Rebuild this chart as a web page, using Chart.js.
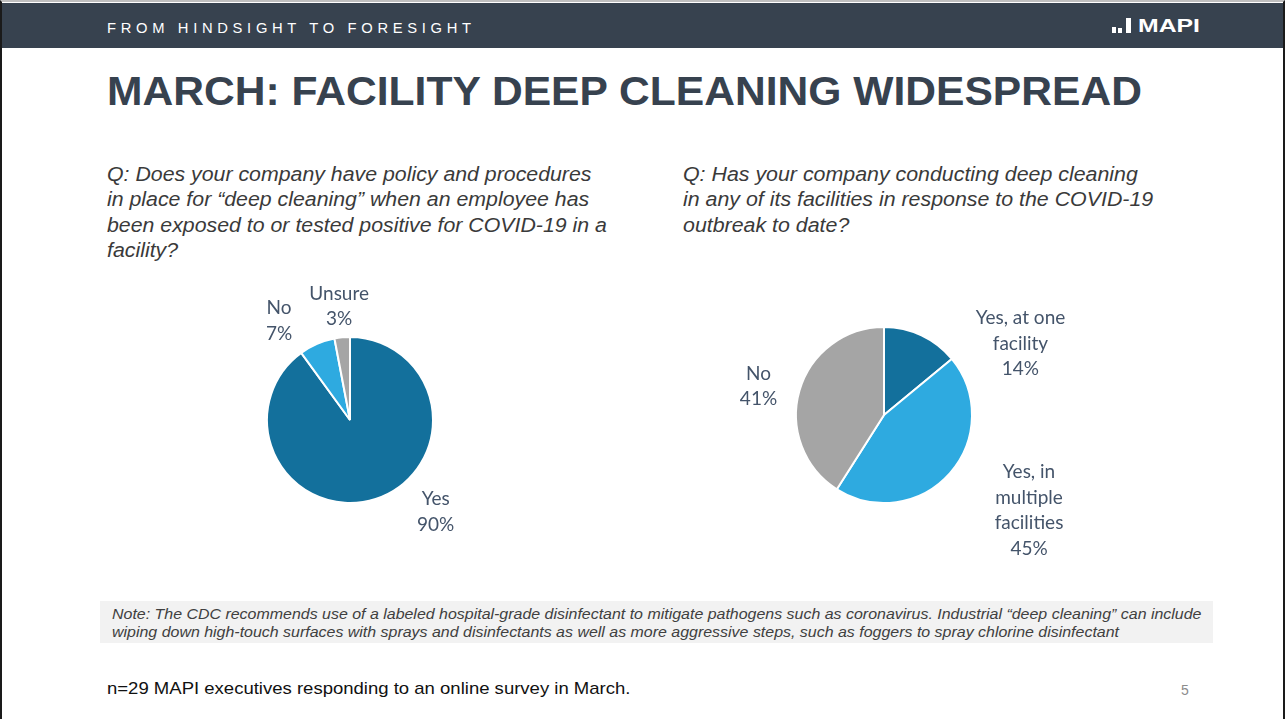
<!DOCTYPE html>
<html>
<head>
<meta charset="utf-8">
<script src="https://cdn.jsdelivr.net/npm/chart.js@4.4.1/dist/chart.umd.min.js"></script>
<style>
  html, body { margin: 0; padding: 0; background: #fff; }
  body { width: 1286px; height: 719px; position: relative; overflow: hidden; font-family: "Liberation Sans", Arial, sans-serif; }
  .frame { position: absolute; left: 0; top: 0; width: 1285px; height: 719px; border-left: 2px solid #1a1a1a; border-right: 2px solid #1a1a1a; border-top: 2px solid #bfbfbf; box-sizing: border-box; }
  .header { position: absolute; left: 2px; top: 3px; width: 1281px; height: 45px; background: #37424f; }
  .tagline { position: absolute; left: 107px; top: 20px; color: #fff; font-size: 14.5px; letter-spacing: 4.6px; white-space: nowrap; }
  .logo { position: absolute; left: 1112px; top: 17px; height: 16px; }
  .logo i { position: absolute; bottom: 0; background: #fff; }
  .logo b { position: absolute; left: 26px; top: -1px; color: #fff; font-size: 18px; font-weight: 900; white-space: nowrap; transform-origin: left top; }
  h1 { position: absolute; left: 107px; top: 69px; margin: 0; color: #37424f; font-size: 40px; font-weight: bold; white-space: nowrap; transform-origin: left top; }
  .q { position: absolute; top: 161px; color: #3a3a3a; font-style: italic; font-size: 20.5px; line-height: 25.3px; white-space: nowrap; transform-origin: left top; }
  .notebox { position: absolute; left: 100px; top: 601px; width: 1113px; height: 42px; background: #f2f2f2; }
  .note { position: absolute; left: 112px; top: 605px; color: #404040; font-style: italic; font-size: 14px; line-height: 18px; white-space: nowrap; transform-origin: left top; }
  .src { position: absolute; left: 107px; top: 679px; font-size: 17px; color: #111; white-space: nowrap; transform-origin: left top; }
  .pg { position: absolute; left: 1181px; top: 682px; font-size: 14px; color: #8c8c8c; }
  canvas { position: absolute; }
</style>
</head>
<body>
<div class="frame"></div>
<div class="header"></div>
<div class="tagline" data-w="369">FROM HINDSIGHT TO FORESIGHT</div>
<div class="logo"><i style="left:0; width:4px; height:6px"></i><i style="left:6px; width:4px; height:5px"></i><i style="left:14px; width:5px; height:15px"></i><b data-w="62">MAPI</b></div>
<h1 data-w="1035">MARCH: FACILITY DEEP CLEANING WIDESPREAD</h1>
<div class="q" style="left:107px" data-w="500">Q: Does your company have policy and procedures<br>in place for “deep cleaning” when an employee has<br>been exposed to or tested positive for COVID-19 in a<br>facility?</div>
<div class="q" style="left:683px" data-w="470">Q: Has your company conducting deep cleaning<br>in any of its facilities in response to the COVID-19<br>outbreak to date?</div>
<div class="notebox"></div>
<div class="note" data-w="1089">Note: The CDC recommends use of a labeled hospital-grade disinfectant to mitigate pathogens such as coronavirus. Industrial “deep cleaning” can include<br>wiping down high-touch surfaces with sprays and disinfectants as well as more aggressive steps, such as foggers to spray chlorine disinfectant</div>
<div class="src" data-w="524">n=29 MAPI executives responding to an online survey in March.</div>
<div class="pg">5</div>

<canvas id="policyChart" width="300" height="300" style="left:200px; top:270px; width:300px; height:300px"></canvas>
<canvas id="cleaningChart" width="440" height="360" style="left:664px; top:235px; width:440px; height:360px"></canvas>

<script>
// Q1: deep cleaning policy in place
const policyLabels = ['Yes', 'No', 'Unsure'];
const policyValues = [90, 7, 3];

// Q2: deep cleaning conducted so far
const cleaningLabels = ['Yes, at one facility', 'Yes, in multiple facilities', 'No'];
const cleaningLines = [['Yes, at one', 'facility'], ['Yes, in', 'multiple', 'facilities'], ['No']];
const cleaningValues = [14, 45, 41];

const darkBlue = '#13709c';
const lightBlue = '#2eaae0';
const grey = '#a5a5a5';

// draws "label / value%" next to each slice, nudged from the slice's outer edge
const outsideLabels = {
  id: 'outsideLabels',
  afterDatasetsDraw(chart, args, opts) {
    const ctx = chart.ctx;
    const meta = chart.getDatasetMeta(0);
    const values = chart.data.datasets[0].data;
    ctx.save();
    ctx.font = opts.font;
    ctx.fillStyle = opts.color;
    ctx.textAlign = 'center';
    ctx.textBaseline = 'middle';
    meta.data.forEach((arc, i) => {
      const mid = (arc.startAngle + arc.endAngle) / 2;
      const ex = arc.x + Math.cos(mid) * arc.outerRadius;
      const ey = arc.y + Math.sin(mid) * arc.outerRadius;
      const lines = opts.lines[i].concat([values[i] + '%']);
      const cx = ex + opts.nudge[i][0];
      const cy = ey + opts.nudge[i][1] - (lines.length - 1) * opts.lineHeight / 2;
      lines.forEach((t, k) => ctx.fillText(t, cx, cy + k * opts.lineHeight));
    });
    ctx.restore();
  }
};

const labelFont = '19px Lato, "Open Sans", sans-serif';

new Chart(document.getElementById('policyChart'), {
  type: 'pie',
  data: {
    labels: policyLabels,
    datasets: [{
      data: policyValues,
      backgroundColor: [darkBlue, lightBlue, grey],
      borderColor: '#fff',
      borderWidth: 2
    }]
  },
  options: {
    responsive: false,
    animation: false,
    layout: { padding: 66 },
    plugins: {
      legend: { display: false },
      tooltip: { enabled: false },
      outsideLabels: {
        lines: policyLabels.map(l => [l]),
        nudge: [[60, 13], [-38, -23], [-3, -31]],
        font: labelFont,
        color: '#44546a',
        lineHeight: 25.5
      }
    }
  },
  plugins: [outsideLabels]
});

new Chart(document.getElementById('cleaningChart'), {
  type: 'pie',
  data: {
    labels: cleaningLabels,
    datasets: [{
      data: cleaningValues,
      backgroundColor: [darkBlue, lightBlue, grey],
      borderColor: '#fff',
      borderWidth: 2
    }]
  },
  options: {
    responsive: false,
    animation: false,
    layout: { padding: 91 },
    plugins: {
      legend: { display: false },
      tooltip: { enabled: false },
      outsideLabels: {
        lines: cleaningLines,
        nudge: [[99, 8], [79, 37], [-41, -4]],
        font: labelFont,
        color: '#44546a',
        lineHeight: 25.5
      }
    }
  },
  plugins: [outsideLabels]
});

// stretch/squeeze text blocks to the widths they have on the slide
document.querySelectorAll('[data-w]').forEach(el => {
  el.style.display = 'inline-block';
  el.style.transform = 'scaleX(' + (el.dataset.w / el.offsetWidth) + ')';
  el.style.transformOrigin = 'left top';
});
</script>
</body>
</html>
